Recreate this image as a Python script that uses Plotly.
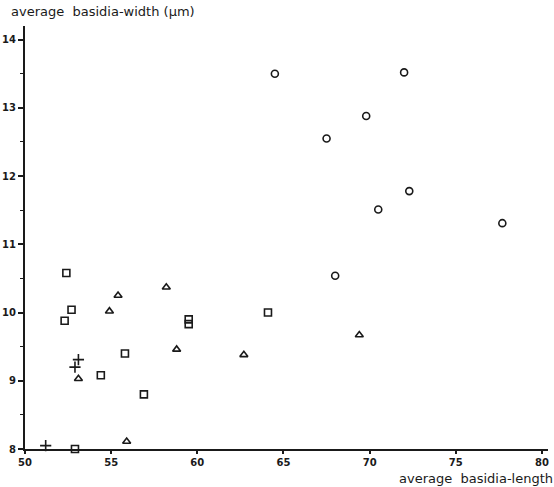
import plotly.graph_objects as go

# circles
circ_x = [64.5, 72.0, 69.8, 67.5, 72.3, 70.5, 77.7, 68.0]
circ_y = [13.50, 13.52, 12.88, 12.55, 11.78, 11.51, 11.31, 10.54]
# triangles
tri_x = [55.4, 54.9, 58.2, 58.8, 53.1, 55.9, 62.7, 69.4]
tri_y = [10.25, 10.02, 10.37, 9.46, 9.03, 8.11, 9.38, 9.67]
# squares
sq_x = [52.4, 52.7, 52.3, 55.8, 54.4, 56.9, 59.5, 59.5, 64.1, 52.9]
sq_y = [10.58, 10.04, 9.88, 9.40, 9.08, 8.80, 9.90, 9.83, 10.00, 8.00]
# plus signs
pl_x = [51.2, 52.9, 53.1]
pl_y = [8.05, 9.20, 9.31]

x_ticks = [50, 55, 60, 65, 70, 75, 80]
y_ticks = [8, 9, 10, 11, 12, 13, 14]

ink = "#1a1a1a"
fig = go.Figure()
def add(xs, ys, sym, size):
    fig.add_trace(go.Scatter(x=xs, y=ys, mode="markers", cliponaxis=False,
                             marker=dict(symbol=sym, size=size, color=ink,
                                         line=dict(color=ink, width=1.6)),
                             showlegend=False))
add(circ_x, circ_y, "circle-open", 7)
add(tri_x, tri_y, "triangle-up-open", 7)
add(sq_x, sq_y, "square-open", 7)
add(pl_x, pl_y, "cross-thin-open", 8)

font = dict(family="DejaVu Sans", size=10, color=ink, weight="bold")
fig.update_layout(
    width=554, height=487,
    margin=dict(l=25, r=6, t=26, b=38),
    paper_bgcolor="white", plot_bgcolor="white",
    xaxis=dict(range=[50, 80.35], tickvals=x_ticks, showgrid=False, zeroline=False,
               automargin=False,
               showline=True, linecolor=ink, linewidth=2, ticks="outside",
               ticklen=3, tickwidth=1.5, tickcolor=ink, tickfont=font),
    yaxis=dict(range=[8, 14.2], tickvals=y_ticks, showgrid=False, zeroline=False,
               automargin=False,
               showline=True, linecolor=ink, linewidth=2, ticks="outside",
               ticklen=5, tickwidth=1.5, tickcolor=ink, tickfont=font,
               minor=dict(dtick=0.5, ticks="outside", ticklen=3, tickcolor=ink, tickwidth=1)),
    annotations=[
        dict(text="average  basidia-width (μm)", xref="paper", yref="paper",
             x=-0.03, y=1.035, xanchor="left", yanchor="middle", showarrow=False,
             font=dict(family="DejaVu Sans", size=13, color=ink)),
        dict(text="average  basidia-length", xref="paper", yref="paper",
             x=1.012, y=-0.0898, xanchor="right", yanchor="bottom", showarrow=False,
             borderpad=0,
             font=dict(family="DejaVu Sans", size=13, color=ink)),
    ],
)
fig.write_html("out.html", config={"displayModeBar": False},
               post_script="document.body.style.margin='0';")
